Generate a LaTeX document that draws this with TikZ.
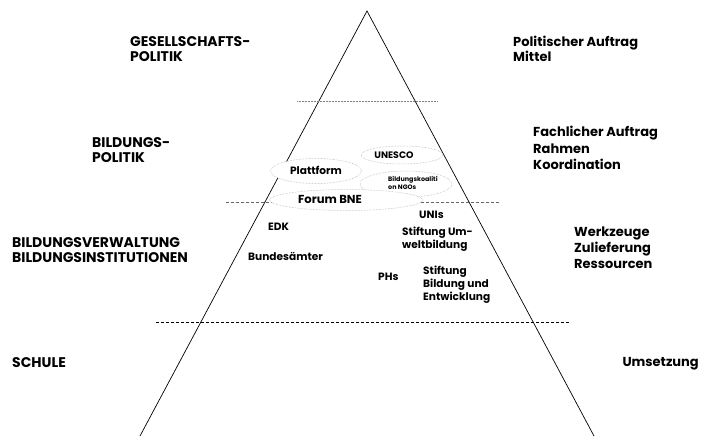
\documentclass[tikz,border=0pt]{standalone}
\usepackage{fontspec}
\setmainfont{Poppins}
\usetikzlibrary{shapes.geometric}
\begin{document}
\begin{tikzpicture}[x=1pt,y=-1pt,
  outer/.style={anchor=north west,inner sep=0pt,align=left,font=\fontsize{14}{15}\selectfont\bfseries},
  router/.style={anchor=north west,inner sep=0pt,align=left,font=\fontsize{13}{#1}\selectfont\bfseries},
  inner/.style={anchor=north west,inner sep=0pt,align=left,font=\fontsize{10.6}{13}\selectfont\bfseries},
  txt/.style={inner sep=0pt,font=\fontsize{#1}{#1}\selectfont\bfseries},
  bubble/.style={ellipse,draw=gray!70,densely dotted,line width=0.5pt,fill=white,inner sep=0pt},
  level/.style={dash pattern=on 3pt off 2pt,line width=0.5pt},
  edge/.style={line width=0.7pt}]
\useasboundingbox (0,0) rectangle (701,439);
% pyramid
\coordinate (apex) at (367,11);
\coordinate (bl) at (140,436);
\coordinate (br) at (594,436);
\draw[edge] (bl) -- (apex) -- (br);
% levels
\coordinate (l1a) at (297,101); \coordinate (l1b) at (438,101);
\coordinate (l2a) at (226,202); \coordinate (l2b) at (500,202);
\coordinate (l3a) at (156,322); \coordinate (l3b) at (569,322);
\draw[gray,densely dotted,line width=0.5pt] (l1a) -- (l1b);
\draw[level,gray!80!black] (l2a) -- (l2b);
\draw[level] (l3a) -- (l3b);
% bubbles
\node[bubble,minimum width=92pt,minimum height=26pt] (ngo) at (406,184) {};
\node[inner,anchor=north west,font=\fontsize{6.4}{8}\selectfont\bfseries] (ngot) at (388,176) {Bildungskoaliti\\on NGOs};
\node[bubble,minimum width=82pt,minimum height=18pt] (unesco) at (402,155) {};
\node[txt=9.4] (unescot) at (394,155) {UNESCO};
\node[bubble,minimum width=91pt,minimum height=25pt] (platt) at (316,171) {};
\node[txt=10.6] (plattt) at (316,170) {Plattform};
\node[bubble,minimum width=153pt,minimum height=21pt] (forum) at (346,200) {};
\node[txt=11.6] (forumt) at (330,199) {Forum BNE};
% inner labels
\node[inner] (unis) at (419,211) {UNIs};
\node[inner] (edk) at (268,223) {EDK};
\node[inner] (sum) at (402,227) {Stiftung Um-\\weltbildung};
\node[inner,fill=white,inner xsep=0pt,inner ysep=0pt] (bund) at (248,252) {Bundesämter};
\node[inner] (phs) at (378,273) {PHs};
\node[inner] (sbe) at (423,266) {Stiftung\\Bildung und\\Entwicklung};
% left labels
\node[outer] (gp) at (130,36) {GESELLSCHAFTS-\\POLITIK};
\node[outer] (bp) at (92,137) {BILDUNGS-\\POLITIK};
\node[outer] (bv) at (12,237) {BILDUNGSVERWALTUNG\\BILDUNGSINSTITUTIONEN};
\node[outer] (sch) at (12,357) {SCHULE};
% right labels
\node[router=15] (pa) at (513,36) {Politischer Auftrag\\Mittel};
\node[router=16.5] (fa) at (533,126) {Fachlicher Auftrag\\Rahmen\\Koordination};
\node[router=16] (wz) at (574,227) {Werkzeuge\\Zulieferung\\Ressourcen};
\node[router=13,anchor=north east] (um) at (699,357) {Umsetzung};
\end{tikzpicture}
\end{document}
